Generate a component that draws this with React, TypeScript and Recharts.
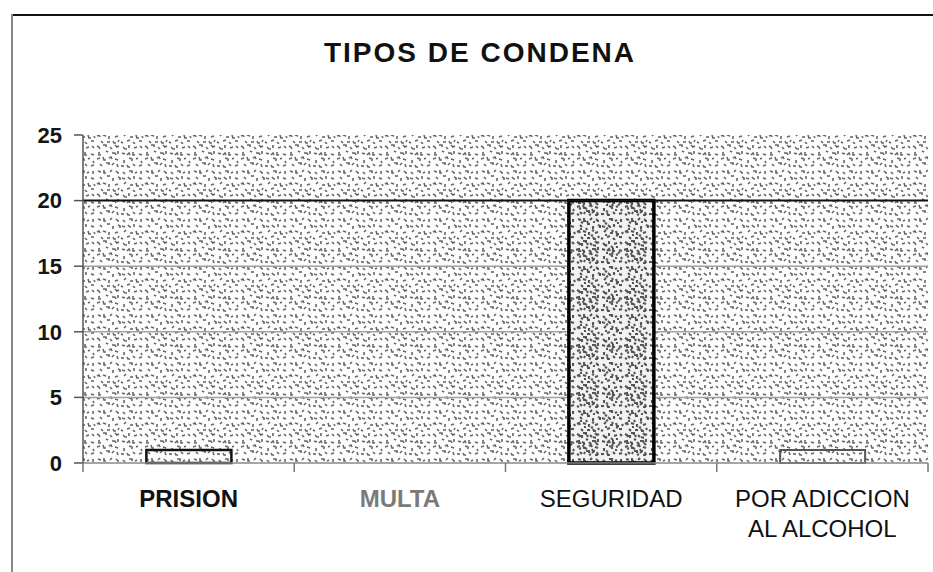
import React from 'react';
import { BarChart, Bar, XAxis, YAxis, CartesianGrid, ReferenceLine, Cell } from 'recharts';

const categories = ['PRISION', 'MULTA', 'SEGURIDAD', 'POR ADICCION AL ALCOHOL'];
const counts = [1, 0, 20, 1];
const yTicks = [0, 5, 10, 15, 20, 25];
const title = 'TIPOS DE CONDENA';

const data = categories.map((name, i) => ({ name, value: counts[i] }));

const labelStyles: Record<string, { fill: string; weight: number }> = {
  PRISION: { fill: '#111', weight: 700 },
  MULTA: { fill: '#7a7a7a', weight: 700 },
  SEGURIDAD: { fill: '#111', weight: 400 },
  'POR ADICCION AL ALCOHOL': { fill: '#111', weight: 400 },
};

const barStyles: Record<string, { fill: string; stroke: string; sw: number }> = {
  PRISION: { fill: 'url(#stipLight)', stroke: '#111', sw: 2.5 },
  MULTA: { fill: 'url(#stipLight)', stroke: '#555', sw: 2 },
  SEGURIDAD: { fill: 'url(#stipDense)', stroke: '#000', sw: 3.5 },
  'POR ADICCION AL ALCOHOL': { fill: 'url(#stipLight)', stroke: '#555', sw: 2 },
};

const FONT = '"Liberation Sans", Arial, Helvetica, sans-serif';

const lightStrokes = [
  'M1 2 l2 1 l1 2', 'M7 1 l3 0 l0 2', 'M14 3 l2 2', 'M19 1 l2 2 l2 -1',
  'M3 8 l0 3 l2 0', 'M10 7 l2 1', 'M16 9 l3 0 l1 2', 'M22 7 l0 3',
  'M1 15 l3 -1', 'M7 13 l1 3 l2 0', 'M13 14 l2 -1 l1 2', 'M19 15 l3 1',
  'M4 20 l2 2', 'M10 19 l3 0 l0 2', 'M16 21 l2 -2', 'M21 20 l1 3',
  'M27 3 l2 2 l2 0', 'M33 1 l0 3', 'M38 4 l3 -1', 'M44 2 l2 2',
  'M26 9 l3 1', 'M31 11 l2 -2 l1 2', 'M37 8 l0 3 l2 0', 'M43 10 l3 1',
  'M28 16 l0 3', 'M33 14 l3 1 l0 2', 'M40 15 l2 -1', 'M45 17 l1 2',
  'M25 22 l3 0', 'M31 21 l1 2 l2 0', 'M37 20 l2 2', 'M43 22 l3 -1',
  'M2 27 l3 1', 'M8 26 l0 3 l2 0', 'M14 28 l2 -2', 'M20 27 l2 2 l1 0',
  'M4 33 l2 2', 'M11 32 l3 0', 'M17 34 l0 3', 'M22 33 l2 1 l0 2',
  'M1 40 l2 -1 l1 2', 'M7 39 l3 1', 'M13 40 l0 3', 'M19 41 l3 -1',
  'M5 45 l2 2', 'M11 46 l3 0', 'M17 45 l1 2 l2 0', 'M22 46 l1 -2',
  'M27 28 l2 2', 'M33 27 l3 0 l0 2', 'M39 29 l2 -1', 'M45 27 l0 3',
  'M26 34 l3 1', 'M32 33 l2 2 l1 0', 'M38 35 l0 -3', 'M43 34 l3 1',
  'M28 40 l2 -2', 'M34 41 l3 0', 'M40 39 l1 3 l2 0', 'M46 40 l1 2',
  'M25 46 l2 1', 'M31 45 l3 -1', 'M37 46 l2 2', 'M43 45 l3 0',
];
const denseExtra = [
  'M4 4 l2 0 l0 2', 'M11 3 l1 2', 'M17 5 l3 1', 'M0 10 l2 -1',
  'M6 10 l2 1 l0 2', 'M13 10 l2 2', 'M20 11 l2 2', 'M3 17 l2 -1',
  'M9 16 l2 1', 'M16 17 l1 2 l2 0', 'M1 22 l2 1', 'M13 22 l2 1',
  'M19 23 l3 0', 'M8 22 l1 -2', 'M29 5 l2 1', 'M35 6 l2 2', 'M41 6 l0 2',
  'M30 13 l2 0', 'M36 12 l1 2', 'M42 13 l2 -1', 'M30 19 l2 1', 'M39 18 l2 0',
  'M5 30 l2 1', 'M11 29 l1 2', 'M17 30 l2 0', 'M29 31 l2 1', 'M41 31 l2 0',
  'M4 37 l2 0', 'M10 36 l1 2', 'M16 38 l2 1', 'M30 37 l2 -1', 'M36 38 l1 2',
  'M8 43 l2 0', 'M15 43 l2 1', 'M29 43 l2 0', 'M40 43 l2 1',
];

function wrap(text: string, maxLen: number): string[] {
  const words = text.split(' ');
  const lines: string[] = [];
  let cur = '';
  for (const w of words) {
    const next = cur ? cur + ' ' + w : w;
    if (next.length > maxLen && cur) {
      lines.push(cur);
      cur = w;
    } else {
      cur = next;
    }
  }
  if (cur) lines.push(cur);
  return lines;
}

function XTick(props: any) {
  const { x, y, payload, index, visibleTicksCount, width } = props;
  const name = payload.value as string;
  const half =
    typeof payload.offset === 'number' && payload.offset > 0
      ? payload.offset
      : width / (visibleTicksCount || categories.length) / 2;
  const st = labelStyles[name] || { fill: '#111', weight: 400 };
  const lines = wrap(name, 13);
  const isLast = index === (visibleTicksCount || categories.length) - 1;
  return (
    <g>
      <line x1={x - half} x2={x - half} y1={y} y2={y + 9} stroke="#777" strokeWidth={1.5} />
      {isLast && <line x1={x + half} x2={x + half} y1={y} y2={y + 9} stroke="#777" strokeWidth={1.5} />}
      <text textAnchor="middle" fill={st.fill} fontWeight={st.weight} fontSize={24} fontFamily={FONT}>
        {lines.map((l, i) => (
          <tspan key={i} x={x} y={y + 44 + i * 30}>{l}</tspan>
        ))}
      </text>
    </g>
  );
}

export default function App() {
  return (
    <div style={{ position: 'absolute', left: 0, top: 0, width: 933, height: 572, background: '#fff', overflow: 'hidden' }}>
      <BarChart
        width={933}
        height={572}
        data={data}
        margin={{ top: 135, right: 5, bottom: 0, left: 0 }}
        barCategoryGap="30%"
      >
        <defs>
          <pattern id="stipLight" width={48} height={48} patternUnits="userSpaceOnUse">
            <rect width={48} height={48} fill="#fdfdfd" />
            {lightStrokes.map((d, i) => (
              <path key={i} d={d} fill="none" stroke="#666" strokeWidth={1.6} />
            ))}
          </pattern>
          <pattern id="stipDense" width={48} height={48} patternUnits="userSpaceOnUse">
            <rect width={48} height={48} fill="#f2f2f2" />
            {lightStrokes.map((d, i) => (
              <path key={'a' + i} d={d} fill="none" stroke="#555" strokeWidth={2.1} />
            ))}
            {denseExtra.map((d, i) => (
              <path key={'b' + i} d={d} fill="none" stroke="#555" strokeWidth={2.1} />
            ))}
          </pattern>
        </defs>
        <CartesianGrid
          vertical={false}
          horizontalValues={[5, 10, 15]}
          stroke="#a0a0a0"
          strokeWidth={1.5}
          fill="url(#stipLight)"
        />
        <XAxis
          dataKey="name"
          interval={0}
          tick={(p: any) => <XTick {...p} />}
          tickLine={false}
          tickSize={0}
          tickMargin={0}
          axisLine={{ stroke: '#888', strokeWidth: 1.5 }}
          height={109}
        />
        <YAxis
          domain={[0, 25]}
          ticks={yTicks}
          interval={0}
          width={83}
          tickSize={9}
          tickMargin={12}
          axisLine={{ stroke: '#555', strokeWidth: 1.5 }}
          tickLine={{ stroke: '#555', strokeWidth: 1.5 }}
          tick={{ fontSize: 22, fontWeight: 700, fill: '#151515', fontFamily: FONT }}
        />
        <ReferenceLine y={20} stroke="#111" strokeWidth={2} />
        <Bar dataKey="value" isAnimationActive={false}>
          {data.map((d) => {
            const s = barStyles[d.name];
            return <Cell key={d.name} fill={s.fill} stroke={s.stroke} strokeWidth={s.sw} />;
          })}
        </Bar>
      </BarChart>
      <div
        style={{
          position: 'absolute', left: 0, top: 37, width: 960, textAlign: 'center',
          fontFamily: FONT, fontWeight: 700, fontSize: 28, lineHeight: '32px',
          letterSpacing: 2, color: '#111',
        }}
      >
        {title}
      </div>
      <div style={{ position: 'absolute', left: 11, top: 14, width: 922, height: 2, background: '#111' }} />
      <div style={{ position: 'absolute', left: 11, top: 14, width: 2, height: 558, background: '#888' }} />
    </div>
  );
}
